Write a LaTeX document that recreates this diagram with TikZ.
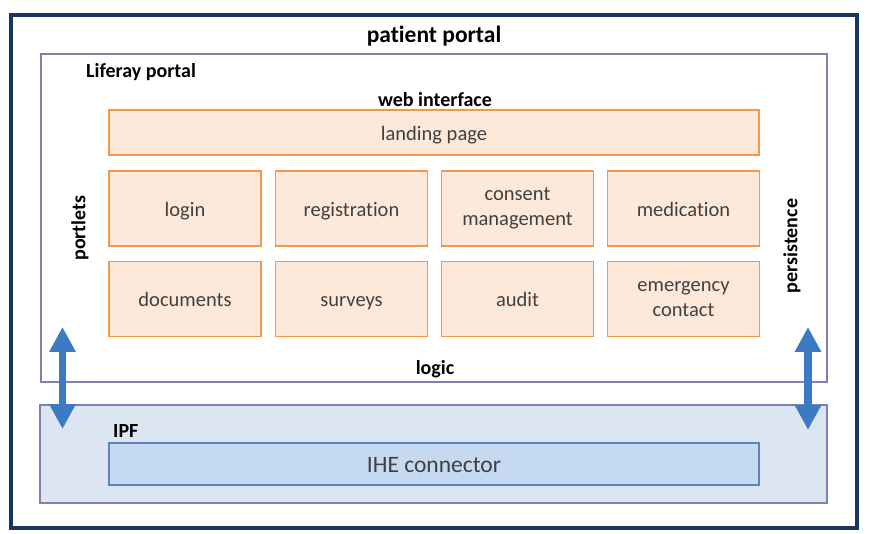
\documentclass[tikz,border=0pt]{standalone}
\usepackage{fontspec}
\setmainfont{Carlito}[Ligatures={NoCommon}]
\usetikzlibrary{arrows.meta}
\definecolor{navy}{RGB}{23,55,94}
\definecolor{lilac}{RGB}{128,128,178}
\definecolor{ipffill}{RGB}{220,230,242}
\definecolor{ihefill}{RGB}{197,217,241}
\definecolor{iheline}{RGB}{95,130,185}
\definecolor{orfill}{RGB}{253,233,217}
\definecolor{orline}{RGB}{247,150,70}
\definecolor{arrowblue}{RGB}{60,122,196}
\definecolor{txt}{RGB}{64,64,64}
\tikzset{
  frame/.style={draw, rectangle, inner sep=0pt},
  orbox/.style={frame, draw=orline, fill=orfill, line width=1.6pt, minimum width=152pt, minimum height=75pt, align=center, text=txt, font=\fontsize{20.5}{25}\selectfont},
  oneline/.style={text height=20pt, text depth=4pt},
  bold lbl/.style={inner sep=0pt, font=\bfseries\fontsize{20}{24}\selectfont},
  dblarrow/.style={draw=arrowblue, line width=7.5pt, {Triangle[width=25pt,length=25pt]}-{Triangle[width=25pt,length=25pt]}}
}
\begin{document}
\begin{tikzpicture}[x=1pt,y=-1pt]
\useasboundingbox (0,0) rectangle (870,534);
% outer frame
\node[frame, draw=navy, line width=3.5pt, minimum width=846pt, minimum height=513pt] (outer) at (434,271.5) {};
\node[inner sep=0pt, font=\bfseries\fontsize{23.5}{28}\selectfont] (title) at (434,36) {patient portal};
% Liferay
\node[frame, draw=lilac, line width=1.5pt, minimum width=786pt, minimum height=328pt] (liferay) at (434,218) {};
\node[bold lbl, anchor=west] (liflbl) at (86,72) {Liferay portal};
\node[bold lbl] (web) at (435,100) {web interface};
\node[bold lbl] (logic) at (435,369) {logic};
\node[bold lbl, rotate=90] (portlets) at (80,228) {portlets};
\node[bold lbl, rotate=90] (persist) at (792,246) {persistence};
% IPF
\node[frame, draw=lilac, fill=ipffill, line width=1.5pt, minimum width=787pt, minimum height=98pt] (ipf) at (433.5,454) {};
\node[bold lbl, anchor=west] (ipflbl) at (113,431) {IPF};
\node[frame, draw=iheline, fill=ihefill, line width=1.5pt, minimum width=650pt, minimum height=42pt, text=txt, text height=21pt, text depth=5pt, font=\fontsize{23.5}{28}\selectfont] (ihe) at (434,464) {IHE connector};
% boxes
\node[orbox, oneline, minimum width=650pt, minimum height=45pt] (landing) at (434,132.5) {landing page};
\node[orbox, oneline] (login) at (185,208.5) {login};
\node[orbox, oneline] (reg) at (351.5,208.5) {registration};
\node[orbox] (consent) at (517.5,208.5) {consent\\management};
\node[orbox, oneline] (medic) at (683.5,208.5) {medication};
\node[orbox, oneline] (docs) at (185,299) {documents};
\node[orbox, oneline] (surveys) at (351.5,299) {surveys};
\node[orbox, oneline] (audit) at (517.5,299) {audit};
\node[orbox] (emerg) at (683.5,299) {emergency\\contact};
% arrows
\coordinate (la1) at (62.5,327);
\coordinate (la2) at (62.5,429);
\coordinate (ra1) at (808,327);
\coordinate (ra2) at (808,430);
\draw[dblarrow] (la1) -- (la2);
\draw[dblarrow] (ra1) -- (ra2);
\end{tikzpicture}
\end{document}
